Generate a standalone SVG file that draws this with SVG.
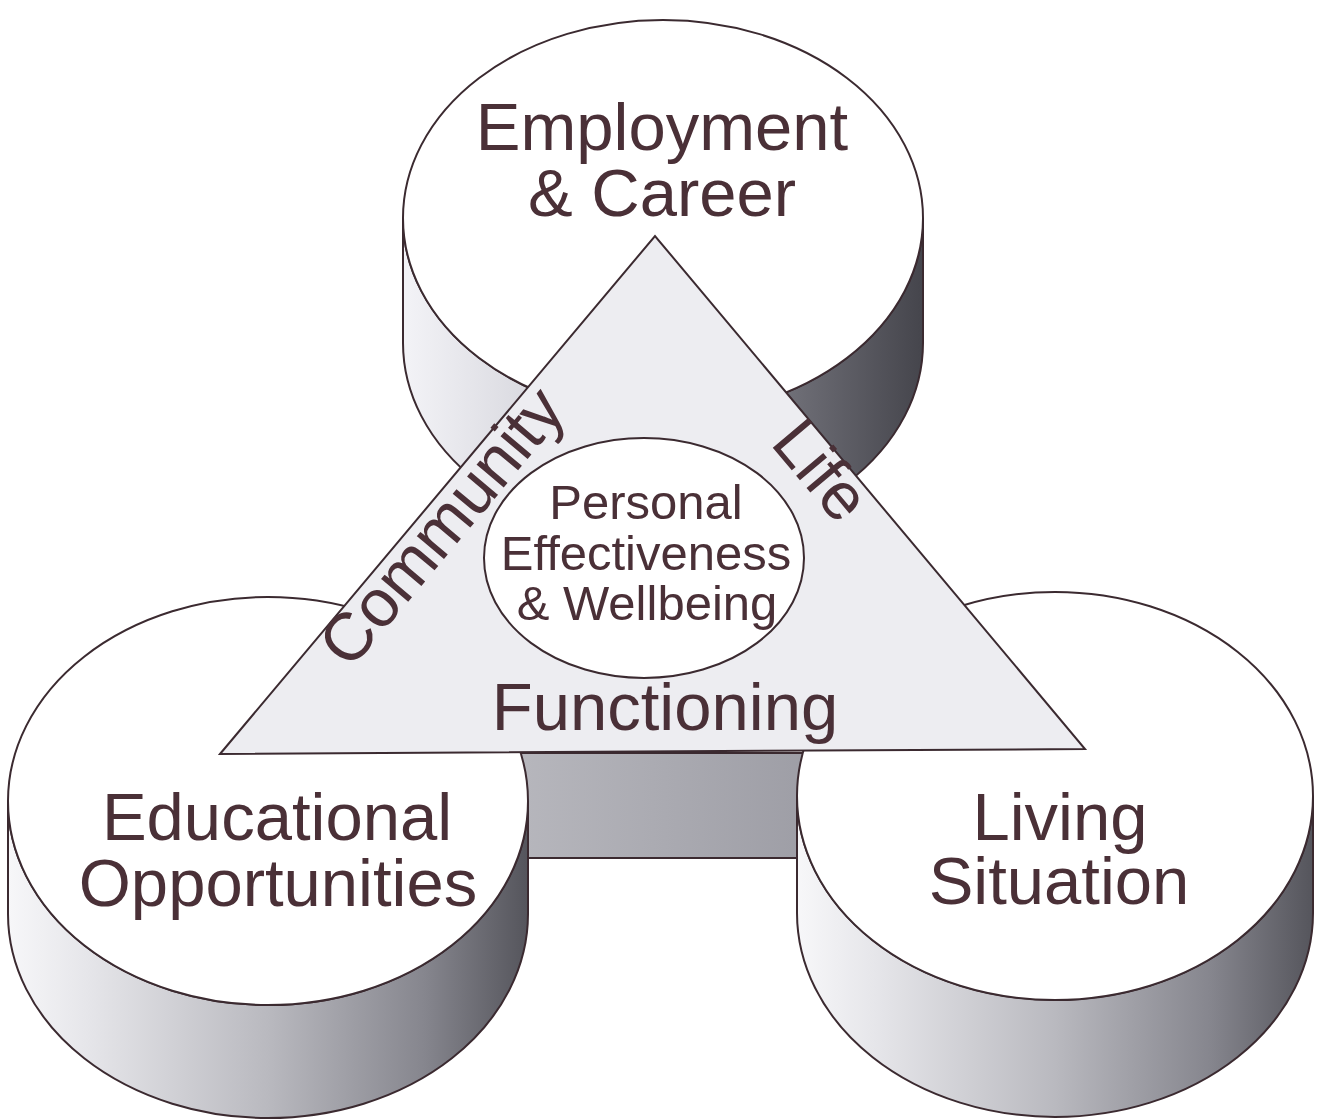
<svg xmlns="http://www.w3.org/2000/svg" width="1324" height="1120" viewBox="0 0 1324 1120">
<defs>
<linearGradient id="sideG" x1="0" y1="0" x2="1" y2="0">
<stop offset="0" stop-color="#f7f7f9"/>
<stop offset="0.15" stop-color="#e6e6ea"/>
<stop offset="0.5" stop-color="#b9b9bf"/>
<stop offset="0.8" stop-color="#86868e"/>
<stop offset="1" stop-color="#55555c"/>
</linearGradient>
<linearGradient id="sideTop" x1="0" y1="0" x2="1" y2="0">
<stop offset="0" stop-color="#f3f3f7"/>
<stop offset="0.45" stop-color="#c4c4cc"/>
<stop offset="0.75" stop-color="#6e6e76"/>
<stop offset="1" stop-color="#45454c"/>
</linearGradient>
<linearGradient id="prismG" x1="0" y1="0" x2="1" y2="0">
<stop offset="0" stop-color="#b8b8be"/>
<stop offset="1" stop-color="#9c9ca4"/>
</linearGradient>
<style>
.ln{stroke:#3b2a30;stroke-width:2;}
.top{fill:#ffffff;}
.tx{font-family:"Liberation Sans",Arial,sans-serif;fill:#4a3037;text-anchor:middle;}
.big{font-size:67px;}
.mid{font-size:49px;}
</style>
</defs>

<g id="employment">
<path class="ln" fill="url(#sideTop)" d="M403,218 L403,343 A260,198 0 0 0 923,343 L923,218 A260,198 0 0 1 403,218 Z"/>
<ellipse class="ln top" cx="663" cy="218" rx="260" ry="198"/>
</g>

<g id="prism-side">
<rect class="ln" fill="url(#prismG)" x="500" y="753" width="330" height="105"/>
</g>

<g id="educational">
<path class="ln" fill="url(#sideG)" d="M8,801 L8,914 A260,204 0 0 0 528,914 L528,801 A260,204 0 0 1 8,801 Z"/>
<ellipse class="ln top" cx="268" cy="801" rx="260" ry="204"/>
</g>

<g id="living">
<path class="ln" fill="url(#sideG)" d="M797,796 L797,913 A258,204 0 0 0 1313,913 L1313,796 A258,204 0 0 1 797,796 Z"/>
<ellipse class="ln top" cx="1055" cy="796" rx="258" ry="204"/>
</g>

<g id="community-functioning">
<polygon class="ln" fill="#ededf1" points="220,754 655,236 1085,749"/>
</g>

<g id="personal">
<ellipse class="ln top" cx="644" cy="558" rx="160" ry="120"/>
</g>

<g id="connectors"></g>

<g id="labels">
<text class="tx big" x="662" y="150">Employment</text>
<text class="tx big" x="662" y="216">&amp; Career</text>
<text class="tx big" x="277" y="840">Educational</text>
<text class="tx big" x="278" y="906">Opportunities</text>
<text class="tx big" x="1060" y="840">Living</text>
<text class="tx big" x="1059" y="904">Situation</text>
<text class="tx big" x="665" y="730">Functioning</text>
<text class="tx big" transform="translate(459,541) rotate(-50)">Community</text>
<text class="tx big" transform="translate(804,485) rotate(50)">Life</text>
<text class="tx mid" x="646" y="519">Personal</text>
<text class="tx mid" x="646" y="570">Effectiveness</text>
<text class="tx mid" x="647" y="620">&amp; Wellbeing</text>
</g>
</svg>
